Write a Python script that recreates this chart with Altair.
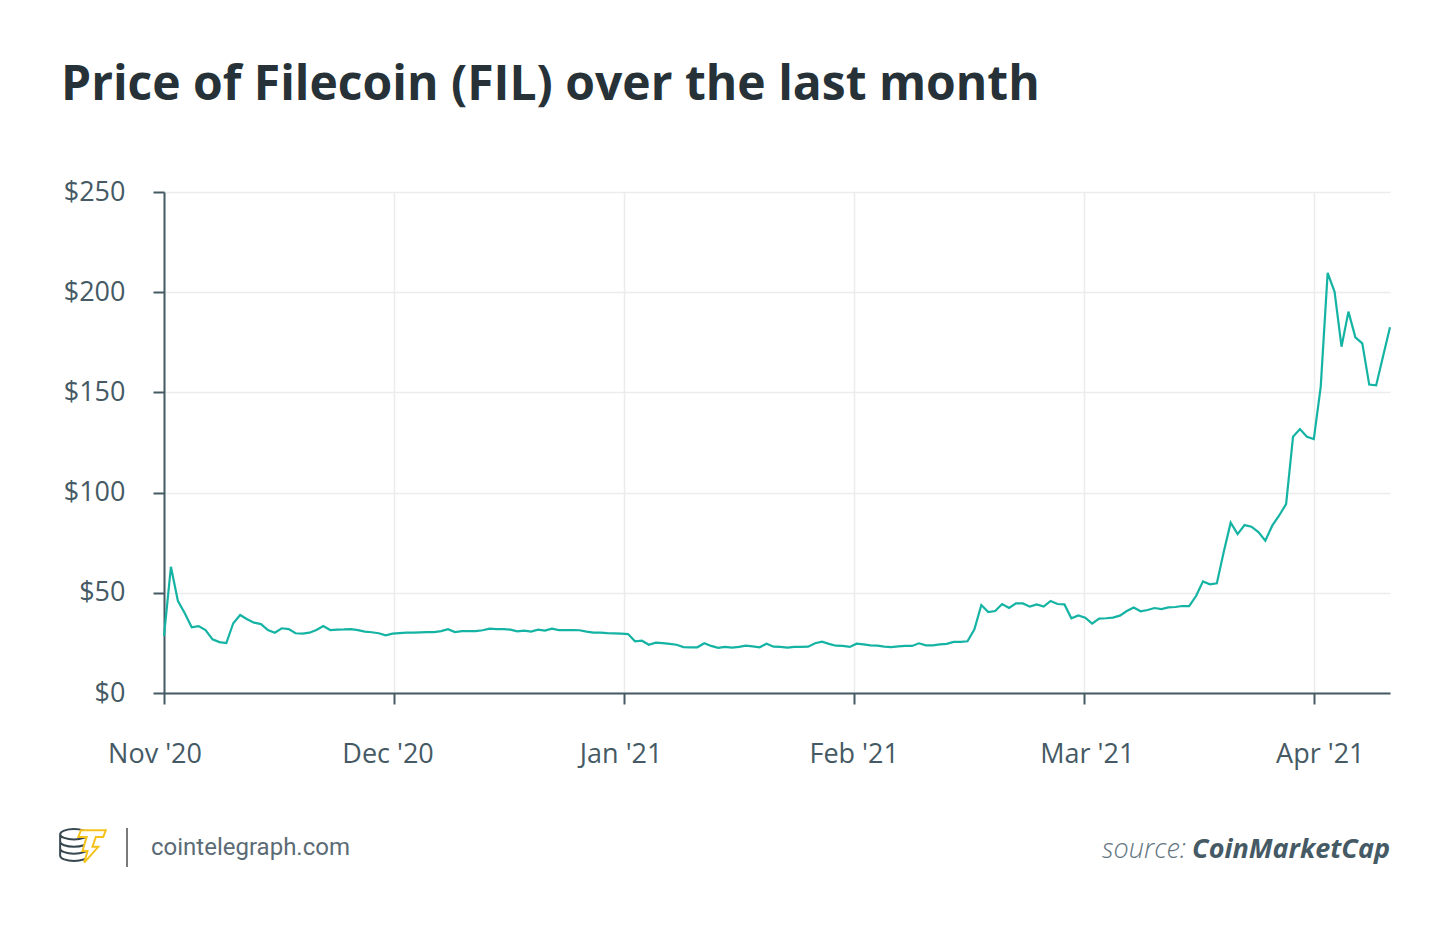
import json
import altair as alt
import pandas as pd

# ---- data ----
nov_prices = [28.4, 63, 46, 39.8, 32.8, 33.4, 31.4, 26.8, 25.4, 24.9, 34.8, 38.9, 36.8, 35.1,
              34.4, 31.4, 30.1, 32.3, 31.9, 29.8, 29.6, 30.1, 31.4, 33.4, 31.4, 31.6, 31.7,
              31.9, 31.4, 30.6, 30.3, 29.8, 28.8]
dec_prices = [29.6, 29.9, 30.1, 30.1, 30.3, 30.4, 30.4, 30.9, 31.8, 30.4, 30.9, 30.9, 30.9,
              31.3, 32.1, 31.9, 31.9, 31.6, 30.8, 31.1, 30.6, 31.6, 31.1, 32.1, 31.4, 31.4,
              31.4, 31.3, 30.6, 30.1, 30.1, 29.9, 29.8]
jan_prices = [29.6, 29.4, 25.8, 26.1, 24.1, 25.1, 24.9, 24.5, 24.1, 22.9, 22.8, 22.8, 24.8,
              23.5, 22.5, 23.0, 22.6, 23.0, 23.6, 23.3, 22.8, 24.6, 23.1, 23.0, 22.6, 23.0,
              23.0, 23.1, 24.8, 25.6, 24.5, 23.6, 23.5]
feb_prices = [23.0, 24.6, 24.3, 23.8, 23.6, 23.1, 22.9, 23.3, 23.5, 23.5, 24.8, 23.8, 23.8,
              24.3, 24.5, 25.5, 25.5, 25.8, 31.8, 43.9, 40.4, 40.9, 44.4, 42.4, 44.7, 44.7,
              43.1, 44.2, 43.1, 45.9, 44.4, 44.2, 37.3]
mar_prices = [38.7, 37.6, 34.6, 37.1, 37.3, 37.6, 38.6, 40.9, 42.7, 40.8, 41.4, 42.4, 41.9,
              42.7, 42.9, 43.4, 43.4, 48.4, 55.7, 54.2, 54.7, 70.5, 85.0, 79.3, 83.8, 83.0,
              80.3, 76.0, 83.5, 88.6, 94.3, 127.9, 131.7, 127.9]
apr_prices = [126.7, 152.9, 209.7, 200.2, 172.8, 190.3, 177.5, 174.5, 153.9, 153.5, 168.0, 182.5]

month_labels = ["Nov '20", "Dec '20", "Jan '21", "Feb '21", "Mar '21", "Apr '21"]
month_tick_positions = [0, 33.2, 66.4, 99.6, 132.8, 166.0]
price_ticks = [0, 50, 100, 150, 200, 250]

prices = nov_prices + dec_prices + jan_prices + feb_prices + mar_prices + apr_prices
df = pd.DataFrame({"idx": list(range(len(prices))), "price": prices})

TEAL = "#14b3a3"
SLATE = "#455a64"
DARK = "#263238"
FONT = "Open Sans"

W, H = 1226, 501

label_expr = "[" + ",".join(json.dumps(l) for l in month_labels) + "][round(datum.value / 33.2)]"

line = alt.Chart(df).mark_line(color=TEAL, strokeWidth=2.2, strokeJoin="miter").encode(
    x=alt.X("idx:Q",
            scale=alt.Scale(domain=[0, len(prices) - 1], nice=False, zero=False),
            axis=alt.Axis(values=month_tick_positions, labelExpr=label_expr, title=None,
                          grid=True, gridColor="#ececec", gridWidth=1.5,
                          tickSize=11, tickWidth=2, tickColor=SLATE,
                          domainColor=SLATE, domainWidth=2,
                          labelFont=FONT, labelFontSize=27, labelColor=SLATE,
                          labelPadding=37, labelAlign="center",
                          labelOffset=alt.ExprRef(expr="-9.5 + 3.1 * round(datum.value / 33.2)"))),
    y=alt.Y("price:Q",
            scale=alt.Scale(domain=[0, 250], nice=False),
            axis=alt.Axis(values=price_ticks, labelExpr="'$' + datum.value", title=None,
                          grid=True, gridColor="#ececec", gridWidth=1.5,
                          tickSize=11, tickWidth=2, tickColor=SLATE,
                          domainColor=SLATE, domainWidth=2,
                          labelFont=FONT, labelFontSize=27, labelColor=SLATE,
                          labelPadding=28)),
)

one = pd.DataFrame({"a": [0]})

title = alt.Chart(one).mark_text(
    text="Price of Filecoin (FIL) over the last month", font=FONT, fontSize=48,
    fontWeight="bold", color=DARK, align="left", baseline="alphabetic"
).encode(x=alt.value(-103), y=alt.value(-92))

site = alt.Chart(one).mark_text(
    text="cointelegraph.com", font="Roboto", fontSize=24, color="#5b6b75",
    align="left", baseline="alphabetic"
).encode(x=alt.value(-13), y=alt.value(663))

divider = alt.Chart(one).mark_rule(color="#7a7a7a", strokeWidth=2).encode(
    x=alt.value(-37), y=alt.value(636), y2=alt.value(675))

coins_path = ("M -0.8 -0.62 A 0.8 0.3 0 1 0 0.8 -0.62 A 0.8 0.3 0 1 0 -0.8 -0.62 "
              "M -0.8 -0.62 L -0.8 0.62 A 0.8 0.3 0 0 0 0.8 0.62 L 0.8 -0.62 "
              "M -0.8 -0.2 A 0.8 0.3 0 0 0 0.8 -0.2 "
              "M -0.8 0.2 A 0.8 0.3 0 0 0 0.8 0.2")
coins = alt.Chart(one).mark_point(shape=coins_path, filled=False, color="#37474f",
                                  strokeWidth=2, size=1200, opacity=1).encode(
    x=alt.value(-90), y=alt.value(653))

bolt_path = ("M -0.55 -0.95 L 0.95 -0.95 L 0.8 -0.55 L 0.35 -0.55 L 0.15 0.05 L 0.5 0.05 "
             "L -0.35 1 L -0.15 0.3 L -0.45 0.3 L -0.2 -0.55 L -0.7 -0.55 Z")
bolt = alt.Chart(one).mark_point(shape=bolt_path, filled=True, fill="white", stroke="#f5c21b",
                                 strokeWidth=2, size=1100, opacity=1, fillOpacity=1).encode(
    x=alt.value(-74), y=alt.value(654))

src_brand = alt.Chart(one).mark_text(
    text="CoinMarketCap", font=FONT, fontSize=27, fontStyle="italic", fontWeight="bold",
    color=SLATE, align="right", baseline="alphabetic"
).encode(x=alt.value(1226), y=alt.value(666))

src_label = alt.Chart(one).mark_text(
    text="source:", font=FONT, fontSize=27, fontStyle="italic", fontWeight=300,
    color="#5f7480", align="right", baseline="alphabetic"
).encode(x=alt.value(1022), y=alt.value(666))

chart = alt.layer(line, title, site, divider, coins, bolt, src_brand, src_label).properties(
    width=W, height=H,
    autosize=alt.AutoSizeParams(type="none"),
    padding={"left": 156, "top": 184, "right": 44, "bottom": 210},
    background="white",
).configure_view(stroke=None)

chart.save("out.html", embed_options={"renderer": "svg", "actions": False})
